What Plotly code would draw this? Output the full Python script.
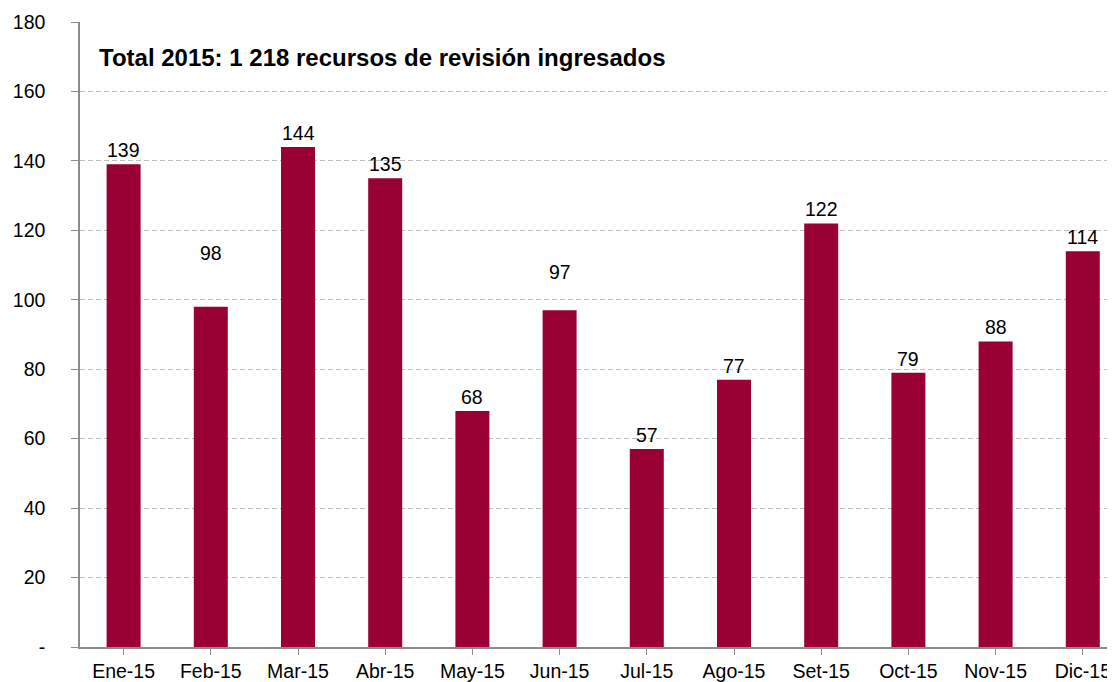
import plotly.graph_objects as go

months = ["Ene-15", "Feb-15", "Mar-15", "Abr-15", "May-15", "Jun-15",
          "Jul-15", "Ago-15", "Set-15", "Oct-15", "Nov-15", "Dic-15"]
recursos = [139, 98, 144, 135, 68, 97, 57, 77, 122, 79, 88, 114]
y_tickvals = [0, 20, 40, 60, 80, 100, 120, 140, 160, 180]
y_ticktext = ["-", "20", "40", "60", "80", "100", "120", "140", "160", "180"]
title_text = "Total 2015: 1 218 recursos de revisión ingresados"

# styling: pixel shift of value labels above bars
label_shift = [1, 41, 1, 1, 1, 25, 1, 1, 1, 1, 1, 1]

FONT = "Liberation Sans, Arial, sans-serif"
BAR = "#990033"
FS = 19.5

fig = go.Figure()
fig.add_trace(go.Bar(
    x=list(range(len(months))), y=recursos,
    marker=dict(color=BAR, line=dict(width=0)),
    width=0.39, hoverinfo="skip",
))

for i, v in enumerate(recursos):
    fig.add_annotation(x=i, y=v, text=str(v), showarrow=False,
                       yanchor="bottom", yshift=label_shift[i],
                       font=dict(family=FONT, size=FS, color="#000000"))

fig.add_annotation(xref="paper", yref="paper", x=17 / 1035, y=(639 - 50) / 625,
                   xanchor="left", yanchor="middle", text="<b>" + title_text + "</b>",
                   showarrow=False, font=dict(family=FONT, size=24, color="#000000"))

fig.update_layout(
    width=1107, height=674,
    margin=dict(l=72, r=0, t=14, b=35),
    paper_bgcolor="white", plot_bgcolor="white",
    showlegend=False,
    font=dict(family=FONT, size=FS, color="#000000"),
    xaxis=dict(
        range=[-0.5, -0.5 + 1035 / 87.2],
        tickmode="array", tickvals=list(range(len(months))), ticktext=months,
        tickson="boundaries", ticks="outside", ticklen=6, tickcolor="#8c8c8c",
        showline=True, linecolor="#8c8c8c", linewidth=1.5,
        showgrid=False, zeroline=False,
        tickfont=dict(family=FONT, size=FS, color="#000000"),
    ),
    yaxis=dict(
        range=[0, 180], tickmode="array", tickvals=y_tickvals, ticktext=y_ticktext,
        ticks="outside", ticklen=7, tickcolor="#8c8c8c",
        showline=True, linecolor="#8c8c8c", linewidth=1.5,
        showgrid=True, gridcolor="#bfbfbf", griddash="5px,3px", gridwidth=1.2,
        zeroline=False, ticklabelstandoff=22,
        tickfont=dict(family=FONT, size=FS, color="#000000"),
    ),
)

fig.write_html("out.html")
